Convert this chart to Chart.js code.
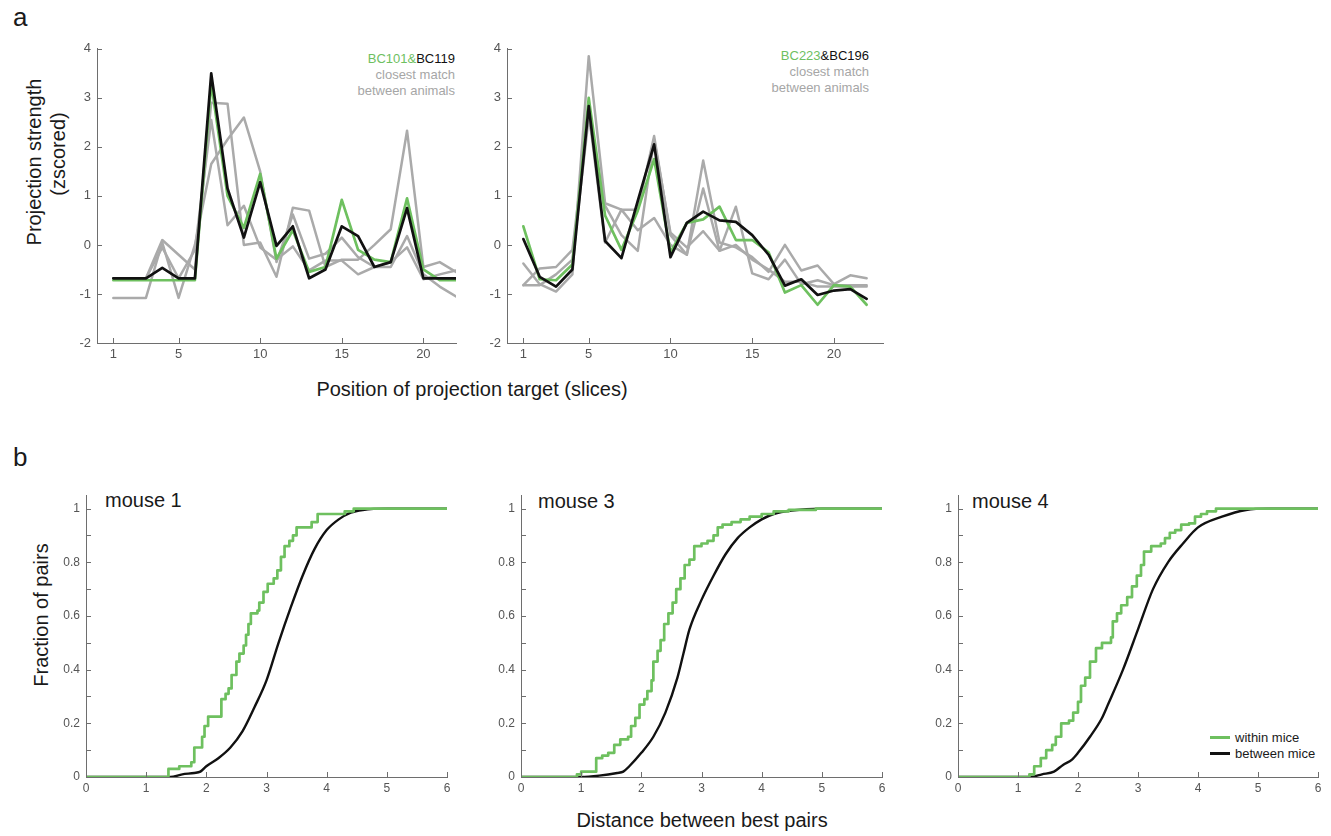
<!DOCTYPE html>
<html>
<head>
<meta charset="utf-8">
<script src="https://cdn.jsdelivr.net/npm/chart.js@4.4.0/dist/chart.umd.min.js"></script>
<style>
  body { margin: 0; width: 1331px; height: 836px; background: #fff; position: relative; overflow: hidden;
         font-family: "Liberation Sans", Arial, sans-serif; color: #1a1a1a; }
  canvas { position: absolute; }
  .txt { position: absolute; white-space: nowrap; line-height: 1; }
  .rot { position: absolute; white-space: nowrap; line-height: 1; transform: translate(-50%, -50%) rotate(-90deg); font-size: 20px; }
  .ctr { position: absolute; white-space: nowrap; line-height: 1; transform: translate(-50%, -50%); font-size: 20px; }
  .leg { position: absolute; white-space: nowrap; font-size: 13px; line-height: 16px; text-align: right; color: #a6a6a6; }
  .sw { position: absolute; width: 20px; height: 3px; }
</style>
</head>
<body>

<div class="txt" style="left:13px; top:4px; font-size:26px;">a</div>
<div class="txt" style="left:13px; top:444px; font-size:26px;">b</div>

<div class="rot" style="left:34px; top:162px;">Projection strength</div>
<div class="rot" style="left:58px; top:154px;">(zscored)</div>
<div class="ctr" style="left:472px; top:389px;">Position of projection target (slices)</div>
<div class="rot" style="left:41px; top:615px;">Fraction of pairs</div>
<div class="ctr" style="left:702px; top:820px;">Distance between best pairs</div>

<div class="leg" style="right:876px; top:51px;"><span style="color:#6ec05f">BC101&amp;</span><span style="color:#111">BC119</span><br>closest match<br>between animals</div>
<div class="leg" style="right:462px; top:48px;"><span style="color:#6ec05f">BC223</span><span style="color:#111">&amp;BC196</span><br>closest match<br>between animals</div>

<div class="txt" style="left:105px; top:490px; font-size:20px;">mouse 1</div>
<div class="txt" style="left:538px; top:491px; font-size:20px;">mouse 3</div>
<div class="txt" style="left:972px; top:491px; font-size:20px;">mouse 4</div>

<div class="sw" style="left:1210px; top:736px; background:#6ec05f;"></div>
<div class="txt" style="left:1235px; top:731px; font-size:13px;">within mice</div>
<div class="sw" style="left:1210px; top:752px; background:#111;"></div>
<div class="txt" style="left:1235px; top:747px; font-size:13px;">between mice</div>

<canvas id="aLeft" width="409" height="338" style="left:57px; top:35px;"></canvas>
<canvas id="aRight" width="426" height="338" style="left:467px; top:35px;"></canvas>
<canvas id="bM1" width="411" height="325" style="left:46px; top:482px;"></canvas>
<canvas id="bM3" width="411" height="325" style="left:481px; top:482px;"></canvas>
<canvas id="bM4" width="410" height="325" style="left:918px; top:482px;"></canvas>

<script>
// ---- panel a: projection profiles ----
var slices = [1, 2, 3, 4, 5, 6, 7, 8, 9, 10, 11, 12, 13, 14, 15, 16, 17, 18, 19, 20, 21, 22];
var sliceTicks = [1, 5, 10, 15, 20];
var zTicks = [-2, -1, 0, 1, 2, 3, 4];

var bc101 = [-0.72, -0.72, -0.72, -0.72, -0.72, -0.72, 3.3, 1.0, 0.35, 1.45, -0.28, 0.3, -0.55, -0.45, 0.92, -0.1, -0.3, -0.35, 0.95, -0.5, -0.72, -0.72];
var bc119 = [-0.68, -0.68, -0.68, -0.47, -0.68, -0.68, 3.5, 1.15, 0.15, 1.28, -0.02, 0.38, -0.68, -0.5, 0.38, 0.18, -0.45, -0.35, 0.75, -0.68, -0.68, -0.68];
var leftGray1 = [-0.68, -0.68, -0.68, 0.1, -0.2, -0.5, 2.9, 2.88, 0.0, 0.05, -0.65, 0.76, 0.7, -0.45, -0.3, -0.3, 0.0, 0.32, 2.33, -0.45, -0.35, -0.55];
var leftGray2 = [-1.08, -1.08, -1.08, 0.05, -1.08, 0.0, 1.65, 2.15, 2.6, 1.5, -0.35, 0.62, -0.28, -0.18, 0.15, -0.25, -0.45, -0.45, 0.18, -0.6, -0.85, -1.05];
var leftGray3 = [-0.68, -0.68, -0.68, -0.05, -0.68, -0.1, 2.55, 0.4, 0.8, -0.05, -0.3, -0.03, -0.52, -0.32, -0.32, -0.6, -0.45, -0.35, -0.05, -0.7, -0.6, -0.52];

var bc223 = [0.38, -0.7, -0.72, -0.4, 3.0, 0.6, -0.1, 0.7, 1.75, -0.15, 0.45, 0.52, 0.78, 0.1, 0.1, -0.15, -0.97, -0.82, -1.22, -0.82, -0.85, -1.22];
var bc196 = [0.12, -0.65, -0.85, -0.5, 2.83, 0.08, -0.27, 0.9, 2.05, -0.25, 0.45, 0.68, 0.5, 0.47, 0.2, -0.2, -0.83, -0.7, -1.02, -0.93, -0.9, -1.1];
var rightGray1 = [-0.38, -0.8, -0.95, -0.6, 3.85, 0.85, 0.72, 0.72, 2.22, 0.2, -0.2, 1.72, 0.05, -0.05, -0.25, -0.55, 0.0, -0.52, -0.42, -0.8, -0.62, -0.68];
var rightGray2 = [-0.82, -0.48, -0.45, -0.1, 2.7, 0.05, 0.72, 0.3, 0.55, 0.0, -0.2, 1.15, -0.12, 0.78, -0.58, -0.7, -0.3, -0.8, -0.72, -0.82, -0.82, -0.82];
var rightGray3 = [-0.82, -0.82, -0.6, -0.3, 2.6, 0.8, 0.2, -0.12, 2.15, 0.25, -0.05, 0.28, -0.12, 0.0, -0.3, -0.5, -0.75, -0.75, -0.85, -0.85, -0.85, -0.85];

// ---- panel b: cumulative distributions of best-pair distance ----
var distTicks = [0, 1, 2, 3, 4, 5, 6];
var fracTicks = [0, 0.1, 0.2, 0.3, 0.4, 0.5, 0.6, 0.7, 0.8, 0.9, 1];

var m1WithinX = [0, 1.37, 1.55, 1.75, 1.8, 1.93, 1.97, 2.03, 2.25, 2.32, 2.37, 2.42, 2.5, 2.55, 2.62, 2.66, 2.7, 2.74, 2.85, 2.88, 2.95, 3.02, 3.12, 3.18, 3.24, 3.3, 3.38, 3.44, 3.5, 3.75, 3.85, 4.3, 4.45, 6];
var m1WithinY = [0, 0.03, 0.04, 0.055, 0.11, 0.15, 0.19, 0.225, 0.29, 0.31, 0.33, 0.38, 0.43, 0.46, 0.49, 0.53, 0.57, 0.61, 0.62, 0.65, 0.69, 0.72, 0.74, 0.77, 0.82, 0.86, 0.88, 0.9, 0.93, 0.95, 0.98, 0.99, 1, 1];
var m1BetweenX = [0, 1.4, 1.6, 1.8, 1.9, 2.0, 2.2, 2.4, 2.6, 2.8, 3.0, 3.2, 3.4, 3.6, 3.8, 4.0, 4.2, 4.4, 4.6, 5.0, 6];
var m1BetweenY = [0, 0, 0.01, 0.015, 0.02, 0.04, 0.07, 0.11, 0.17, 0.26, 0.36, 0.5, 0.63, 0.75, 0.85, 0.92, 0.96, 0.985, 0.995, 1, 1];

var m3WithinX = [0, 0.93, 1.0, 1.25, 1.35, 1.45, 1.55, 1.65, 1.78, 1.83, 1.9, 1.97, 2.05, 2.1, 2.17, 2.2, 2.27, 2.32, 2.38, 2.45, 2.52, 2.58, 2.65, 2.72, 2.8, 2.88, 3.0, 3.1, 3.2, 3.27, 3.35, 3.5, 3.65, 3.8, 4.0, 4.2, 4.45, 4.9, 6];
var m3WithinY = [0, 0.01, 0.02, 0.07, 0.08, 0.09, 0.12, 0.14, 0.15, 0.19, 0.22, 0.27, 0.29, 0.32, 0.36, 0.43, 0.47, 0.51, 0.57, 0.61, 0.65, 0.7, 0.74, 0.79, 0.81, 0.86, 0.87, 0.88, 0.9, 0.93, 0.94, 0.95, 0.96, 0.97, 0.98, 0.99, 0.995, 1, 1];
var m3BetweenX = [0, 1.0, 1.3, 1.6, 1.7, 1.8, 2.0, 2.2, 2.4, 2.6, 2.7, 2.8, 3.0, 3.2, 3.4, 3.6, 3.8, 4.0, 4.2, 4.5, 5.0, 6];
var m3BetweenY = [0, 0, 0.005, 0.015, 0.02, 0.04, 0.09, 0.15, 0.24, 0.37, 0.46, 0.55, 0.66, 0.75, 0.83, 0.89, 0.93, 0.96, 0.98, 0.993, 1, 1];

var m4WithinX = [0, 1.19, 1.27, 1.38, 1.47, 1.57, 1.63, 1.72, 1.85, 1.92, 2.0, 2.05, 2.12, 2.2, 2.3, 2.4, 2.55, 2.58, 2.65, 2.72, 2.82, 2.9, 2.98, 3.05, 3.1, 3.22, 3.38, 3.45, 3.53, 3.62, 3.72, 3.85, 3.95, 4.05, 4.15, 4.3, 6];
var m4WithinY = [0, 0.01, 0.04, 0.07, 0.1, 0.12, 0.15, 0.2, 0.21, 0.24, 0.28, 0.34, 0.37, 0.43, 0.48, 0.5, 0.52, 0.58, 0.61, 0.64, 0.67, 0.71, 0.75, 0.79, 0.84, 0.86, 0.87, 0.89, 0.91, 0.92, 0.94, 0.945, 0.97, 0.98, 0.99, 1, 1];
var m4BetweenX = [0, 1.2, 1.4, 1.6, 1.75, 1.9, 2.0, 2.2, 2.4, 2.5, 2.75, 3.0, 3.25, 3.5, 3.75, 4.0, 4.4, 4.8, 5.2, 6];
var m4BetweenY = [0, 0, 0.01, 0.02, 0.045, 0.065, 0.09, 0.15, 0.22, 0.27, 0.4, 0.55, 0.7, 0.8, 0.87, 0.93, 0.97, 0.995, 1, 1];

var verde = "#6ec05f";
var preto = "#111111";
var cinza = "#aaaaaa";
var corEixo = "#6e6e6e";
var corTexto = "#555555";

function pontos(xs, ys) {
    return xs.map(function (x, i) { return { x: x, y: ys[i] }; });
}

// MATLAB-style ticks pointing into the plot
var ticksParaDentro = {
    id: "ticksParaDentro",
    afterDraw: function (chart) {
        var ctx = chart.ctx;
        var area = chart.chartArea;
        var sx = chart.scales.x;
        var sy = chart.scales.y;
        ctx.save();
        ctx.strokeStyle = corEixo;
        ctx.lineWidth = 1;
        ctx.beginPath();
        sx.ticks.forEach(function (t) {
            var px = Math.round(sx.getPixelForValue(t.value)) + 0.5;
            ctx.moveTo(px, area.bottom);
            ctx.lineTo(px, area.bottom - 5);
        });
        sy.ticks.forEach(function (t) {
            var py = Math.round(sy.getPixelForValue(t.value)) + 0.5;
            ctx.moveTo(area.left, py);
            ctx.lineTo(area.left + 5, py);
        });
        ctx.stroke();
        ctx.restore();
    }
};

function criarGrafico(id, datasets, eixoX, eixoY, fonteTick, folgaY) {
    var ctx = document.getElementById(id).getContext("2d");
    return new Chart(ctx, {
        type: "line",
        data: { datasets: datasets },
        options: {
            responsive: false,
            animation: false,
            devicePixelRatio: 1,
            layout: { padding: { top: 10, right: 10, left: 0, bottom: 0 } },
            plugins: { legend: { display: false }, tooltip: { enabled: false } },
            elements: { point: { radius: 0 }, line: { borderJoinStyle: "round", borderCapStyle: "round" } },
            scales: {
                x: {
                    type: "linear",
                    min: eixoX.min,
                    max: eixoX.max,
                    afterBuildTicks: function (scale) {
                        scale.ticks = eixoX.ticks.map(function (v) { return { value: v }; });
                    },
                    afterFit: function (scale) { scale.height = 30; },
                    grid: { display: false, drawTicks: false },
                    border: { display: true, color: corEixo, width: 1 },
                    ticks: { color: corTexto, font: { size: fonteTick, family: "Liberation Sans, Arial" }, padding: 4, maxRotation: 0, autoSkip: false,
                             callback: eixoX.rotulo }
                },
                y: {
                    type: "linear",
                    min: eixoY.min,
                    max: eixoY.max,
                    afterBuildTicks: function (scale) {
                        scale.ticks = eixoY.ticks.map(function (v) { return { value: v }; });
                    },
                    afterFit: function (scale) { scale.width = 40; },
                    grid: { display: false, drawTicks: false },
                    border: { display: true, color: corEixo, width: 1 },
                    ticks: { color: corTexto, font: { size: fonteTick, family: "Liberation Sans, Arial" }, padding: folgaY, autoSkip: false,
                             callback: eixoY.rotulo }
                }
            }
        },
        plugins: [ticksParaDentro]
    });
}

function linhaPerfil(valores, cor, largura) {
    return { data: pontos(slices, valores), borderColor: cor, borderWidth: largura, tension: 0, fill: false };
}

function rotuloSimples(v) { return String(v); }

var eixoZ = { min: -2, max: 4, ticks: zTicks, rotulo: rotuloSimples };

// first dataset ends up drawn on top
criarGrafico("aLeft", [
    linhaPerfil(bc119, preto, 2.7),
    linhaPerfil(bc101, verde, 2.7),
    linhaPerfil(leftGray1, cinza, 2.5),
    linhaPerfil(leftGray2, cinza, 2.5),
    linhaPerfil(leftGray3, cinza, 2.5)
], { min: 0, max: 22, ticks: sliceTicks, rotulo: rotuloSimples }, eixoZ, 13, 6);

criarGrafico("aRight", [
    linhaPerfil(bc196, preto, 2.7),
    linhaPerfil(bc223, verde, 2.7),
    linhaPerfil(rightGray1, cinza, 2.5),
    linhaPerfil(rightGray2, cinza, 2.5),
    linhaPerfil(rightGray3, cinza, 2.5)
], { min: 0, max: 23, ticks: sliceTicks, rotulo: rotuloSimples }, eixoZ, 13, 6);

function rotuloFracao(v) {
    var k = Math.round(v * 10);
    if (k % 2 !== 0) return "";
    if (k === 0) return "0";
    if (k === 10) return "1";
    return (k / 10).toFixed(1);
}

var eixoDist = { min: 0, max: 6, ticks: distTicks, rotulo: rotuloSimples };
var eixoFrac = { min: 0, max: 1.05, ticks: fracTicks, rotulo: rotuloFracao };

function curvas(wx, wy, bx, by) {
    return [
        { data: pontos(wx, wy), borderColor: verde, borderWidth: 2.7, stepped: true, fill: false },
        { data: pontos(bx, by), borderColor: preto, borderWidth: 2.4, cubicInterpolationMode: "monotone", fill: false }
    ];
}

criarGrafico("bM1", curvas(m1WithinX, m1WithinY, m1BetweenX, m1BetweenY), eixoDist, eixoFrac, 12, 6);
criarGrafico("bM3", curvas(m3WithinX, m3WithinY, m3BetweenX, m3BetweenY), eixoDist, eixoFrac, 12, 6);
criarGrafico("bM4", curvas(m4WithinX, m4WithinY, m4BetweenX, m4BetweenY), eixoDist, eixoFrac, 12, 6);
</script>
</body>
</html>
